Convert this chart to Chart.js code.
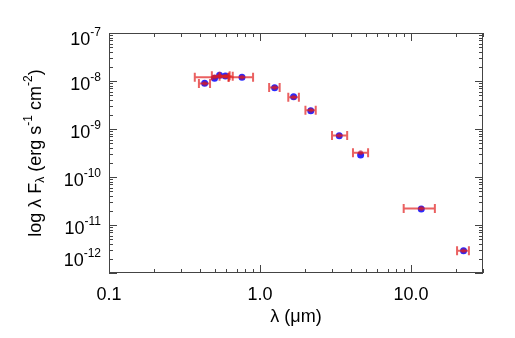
<!DOCTYPE html>
<html>
<head>
<meta charset="utf-8">
<script src="https://cdn.jsdelivr.net/npm/chart.js@4"></script>
<style>
  html, body { margin: 0; padding: 0; background: #fff; }
  #wrap { width: 515px; height: 338px; }
</style>
</head>
<body>
<div id="wrap"><canvas id="sed"></canvas></div>
<script>
// wavelengths (micron) and horizontal error bar ends
var lambda = [0.43, 0.50, 0.54, 0.59, 0.76, 1.25, 1.67, 2.17, 3.35, 4.64, 11.7, 22.3];
var lamLo  = [0.394, 0.37, 0.48, 0.54, 0.62, 1.15, 1.54, 2.00, 3.00, 4.13, 8.95, 20.2];
var lamHi  = [0.467, 0.62, 0.63, 0.66, 0.90, 1.35, 1.81, 2.34, 3.78, 5.20, 14.4, 24.2];
// blue points (model) and red points (observed)
var modelFlux = [8.95e-9, 1.14e-8, 1.31e-8, 1.27e-8, 1.19e-8, 7.24e-9, 4.71e-9, 2.41e-9, 7.25e-10, 2.87e-10, 2.16e-11, 2.92e-12];
var obsFlux   = [8.9e-9, 1.2e-8, 1.28e-8, 1.25e-8, 1.2e-8, 7.3e-9, 4.6e-9, 2.45e-9, 7.3e-10, 3.2e-10, 2.2e-11, 2.9e-12];
// tick labels
var xTickVals = [0.1, 1, 10];
var xTickText = ['0.1', '1.0', '10.0'];
var yTickExp = [-7, -8, -9, -10, -11, -12];

var FONT = '"Liberation Sans", Arial, Helvetica, sans-serif';
var AXIS = '#444';

function pts(xs, ys) {
  return xs.map(function (x, i) { return {x: x, y: ys[i]}; });
}

// draws text made of pieces: [text, size, dy]
function richText(ctx, parts, x, y, align) {
  var w = 0;
  parts.forEach(function (p) { ctx.font = p[1] + 'px ' + FONT; w += ctx.measureText(p[0]).width; });
  var cx = align === 'right' ? x - w : (align === 'center' ? x - w / 2 : x);
  parts.forEach(function (p) {
    ctx.font = p[1] + 'px ' + FONT;
    ctx.fillText(p[0], cx, y + p[2]);
    cx += ctx.measureText(p[0]).width;
  });
}

var errorBars = {
  id: 'errorBars',
  afterDatasetsDraw: function (chart) {
    var ctx = chart.ctx, xs = chart.scales.x, ys = chart.scales.y;
    ctx.save();
    ctx.strokeStyle = 'rgba(225, 30, 30, 0.7)';
    ctx.lineWidth = 2;
    for (var i = 0; i < lambda.length; i++) {
      var y = ys.getPixelForValue(obsFlux[i]);
      var x1 = xs.getPixelForValue(lamLo[i]);
      var x2 = xs.getPixelForValue(lamHi[i]);
      ctx.beginPath();
      ctx.moveTo(x1, y); ctx.lineTo(x2, y);
      ctx.moveTo(x1, y - 4.5); ctx.lineTo(x1, y + 4.5);
      ctx.moveTo(x2, y - 4.5); ctx.lineTo(x2, y + 4.5);
      ctx.stroke();
    }
    ctx.restore();
  }
};

var idlAxes = {
  id: 'idlAxes',
  afterDraw: function (chart) {
    var ctx = chart.ctx, a = chart.chartArea, xs = chart.scales.x, ys = chart.scales.y;
    ctx.save();
    ctx.strokeStyle = AXIS;
    ctx.lineWidth = 1;
    ctx.strokeRect(a.left + 0.5, a.top + 0.5, a.right - a.left - 1, a.bottom - a.top - 1);

    ctx.beginPath();
    // x ticks, bottom and top
    for (var d = 0.1; d < 31; d *= 10) {
      for (var m = 1; m < 10; m++) {
        var v = d * m;
        if (v > 30.01) break;
        var px = Math.round(xs.getPixelForValue(v)) + 0.5;
        var len = m === 1 ? 8 : 4;
        ctx.moveTo(px, a.bottom); ctx.lineTo(px, a.bottom - len);
        ctx.moveTo(px, a.top); ctx.lineTo(px, a.top + len);
      }
    }
    // y ticks, left and right
    for (var e = -12; e < -7; e++) {
      for (var k = 1; k < 10; k++) {
        var py = Math.round(ys.getPixelForValue(k * Math.pow(10, e))) + 0.5;
        var l2 = k === 1 ? 8 : 4;
        ctx.moveTo(a.left, py); ctx.lineTo(a.left + l2, py);
        ctx.moveTo(a.right, py); ctx.lineTo(a.right - l2, py);
      }
    }
    ctx.stroke();

    ctx.fillStyle = '#000';
    ctx.textBaseline = 'middle';
    // x tick labels
    for (var i = 0; i < xTickVals.length; i++) {
      ctx.font = '18px ' + FONT;
      ctx.textAlign = 'center';
      ctx.fillText(xTickText[i], xs.getPixelForValue(xTickVals[i]), a.bottom + 22);
    }
    ctx.textAlign = 'left';
    // y tick labels 10^n
    yTickExp.forEach(function (n) {
      var y = ys.getPixelForValue(Math.pow(10, n)) + 4;
      y = Math.max(a.top + 7, Math.min(a.bottom - 12, y));
      richText(ctx, [['10', 18, 0], ['' + n, 12, -7]], a.left - 8, y, 'right');
    });
    // x title
    richText(ctx, [['\u03bb (\u03bcm)', 18, 0]], (a.left + a.right) / 2, a.bottom + 44, 'center');
    // y title rotated
    ctx.translate(36, (a.top + a.bottom) / 2);
    ctx.rotate(-Math.PI / 2);
    richText(ctx, [
      ['log \u03bb F', 18, 0], ['\u03bb', 12, 5], [' (erg s', 18, 0], ['-1', 12, -7],
      [' cm', 18, 0], ['-2', 12, -7], [')', 18, 0]
    ], 0, 0, 'center');
    ctx.restore();
  }
};

new Chart(document.getElementById('sed'), {
  type: 'scatter',
  data: {
    datasets: [
      {
        label: 'observed',
        data: pts(lambda, obsFlux),
        pointRadius: 2.5,
        pointBorderWidth: 0,
        backgroundColor: 'rgba(190, 20, 50, 0.6)',
        order: 0
      },
      {
        label: 'model',
        data: pts(lambda, modelFlux),
        pointRadius: 3.5,
        pointBorderWidth: 0,
        backgroundColor: '#2a2aff',
        order: 1
      }
    ]
  },
  options: {
    responsive: true,
    maintainAspectRatio: false,
    animation: false,
    layout: { padding: { top: 33, right: 32, left: 0, bottom: 0 } },
    plugins: { legend: { display: false }, tooltip: { enabled: false } },
    scales: {
      x: {
        type: 'logarithmic', min: 0.1, max: 30,
        grid: { display: false }, border: { display: false },
        ticks: { display: false },
        afterFit: function (s) { s.height = 65; }
      },
      y: {
        type: 'logarithmic', min: 1e-12, max: 1e-7,
        grid: { display: false }, border: { display: false },
        ticks: { display: false },
        afterFit: function (s) { s.width = 109; }
      }
    }
  },
  plugins: [errorBars, idlAxes]
});
</script>
</body>
</html>
